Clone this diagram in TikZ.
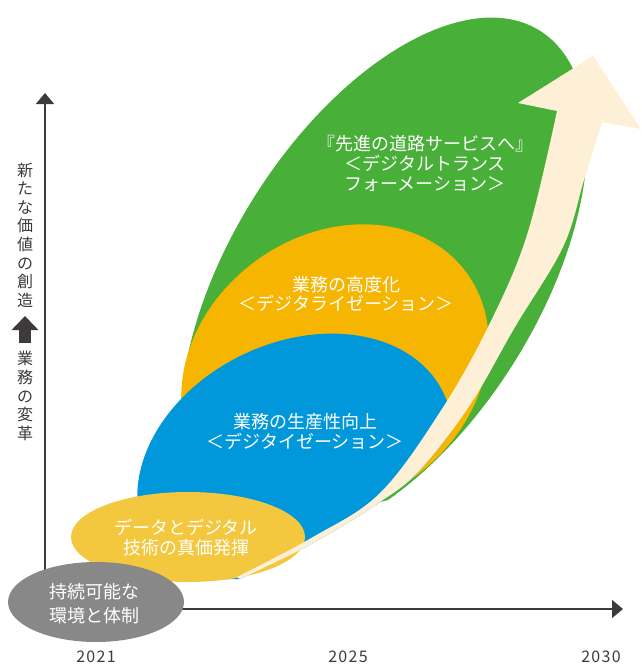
\documentclass[tikz,border=0pt]{standalone}
\usepackage{fontspec}
\setmainfont{Noto Sans CJK JP}
\newfontfamily\yearfont[LetterSpace=8]{Noto Sans CJK JP}
\usepackage{tikz}
\usetikzlibrary{arrows.meta,shapes.geometric}
\definecolor{dxgreen}{RGB}{72,175,56}
\definecolor{dxorange}{RGB}{246,181,0}
\definecolor{dxblue}{RGB}{0,152,218}
\definecolor{dxyellow}{RGB}{243,200,62}
\definecolor{dxcream}{RGB}{254,240,214}
\definecolor{dxgray}{RGB}{136,136,136}
\definecolor{axisgray}{RGB}{62,58,57}

\begin{document}
\begin{tikzpicture}[x=1pt,y=-1pt,
	axis/.style={draw=axisgray, line width=1.6pt, -{Triangle[width=18pt,length=11pt]}},
	phase/.style={text=white, align=center, inner sep=0pt, font=\fontsize{18}{20}\selectfont},
	blob/.style={ellipse, inner sep=0pt},
	year/.style={text=axisgray, font=\yearfont\fontsize{16}{18}\selectfont},
	sidelabel/.style={text=axisgray, align=center, inner sep=0pt, font=\fontsize{16}{18.6}\selectfont},
	]
	\useasboundingbox (0,0) rectangle (641,664);
	% axes
	\coordinate (O) at (45,609);
	\coordinate (ytop) at (45,93);
	\coordinate (xend) at (623,609);
	\draw[axis] (O) -- (ytop);
	\draw[axis] (O) -- (xend);
	\node[sidelabel] (newvalue) at (25,235) {新\\た\\な\\価\\値\\の\\創\\造};
	\node[sidelabel] (reform) at (25,396) {業\\務\\の\\変\\革};
	\draw[axisgray, line width=12pt, -{Triangle[width=26pt,length=14pt]}] (25,343) -- (25,316);
	\node[year] (y2021) at (96,657) {2021};
	\node[year] (y2025) at (348,657) {2025};
	\node[year] (y2030) at (601,657) {2030};

	% big phases
	\begin{scope}
		\clip (0,0) -- (641,0) -- (641,400) -- (400,497) -- (380,502) -- (313,543) -- (240,579) -- (0,579) -- cycle;
		\fill[dxgreen, rotate around={58:(384,280)}] (384,280) ellipse [x radius=294, y radius=154];
		\fill[dxorange, rotate around={36:(335,369)}] (335,369) ellipse [x radius=163, y radius=134];
	\end{scope}
	\begin{scope}
		\clip (0,0) -- (602,0) -- (602,122) -- plot[smooth, tension=0.6] coordinates {(602,122) (584,180) (563,247) (515,327) (470,405) (420,470) (380,502) (313,543) (240,579)} -- (0,579) -- cycle;
		\fill[dxblue, rotate around={26:(295,465)}] (295,465) ellipse [x radius=165, y radius=122];
	\end{scope}

	\node[blob, fill=dxyellow, minimum width=234, minimum height=90] (data) at (188,537) {};
	\node[phase] (datatext) at (186,538) {データとデジタル\\技術の真価発揮};

	% growth arrow
	\fill[dxcream] plot[smooth, tension=0.6] coordinates {(237,577) (313,537) (380,493) (440,412) (488,327) (527,235) (557,111)}
		-- (518,103) -- (593,56) -- (641,129) -- (602,122)
		-- plot[smooth, tension=0.6] coordinates {(602,122) (584,180) (563,247) (515,327) (470,405) (420,470) (380,502) (313,543) (240,579)} -- cycle;

	\node[blob, fill=dxgray, minimum width=176, minimum height=80] (base) at (96,602) {};
	\node[phase, font=\fontsize{18}{24}\selectfont] (basetext) at (94,604) {持続可能な\\環境と体制};

	\node[phase] (dx) at (425,163) {『先進の道路サービスへ』\\＜デジタルトランス\\フォーメーション＞};
	\node[phase, font=\fontsize{18}{19}\selectfont] (dl) at (346,294) {業務の高度化\\＜デジタライゼーション＞};
	\node[phase] (dz) at (305,431) {業務の生産性向上\\＜デジタイゼーション＞};
\end{tikzpicture}
\end{document}
